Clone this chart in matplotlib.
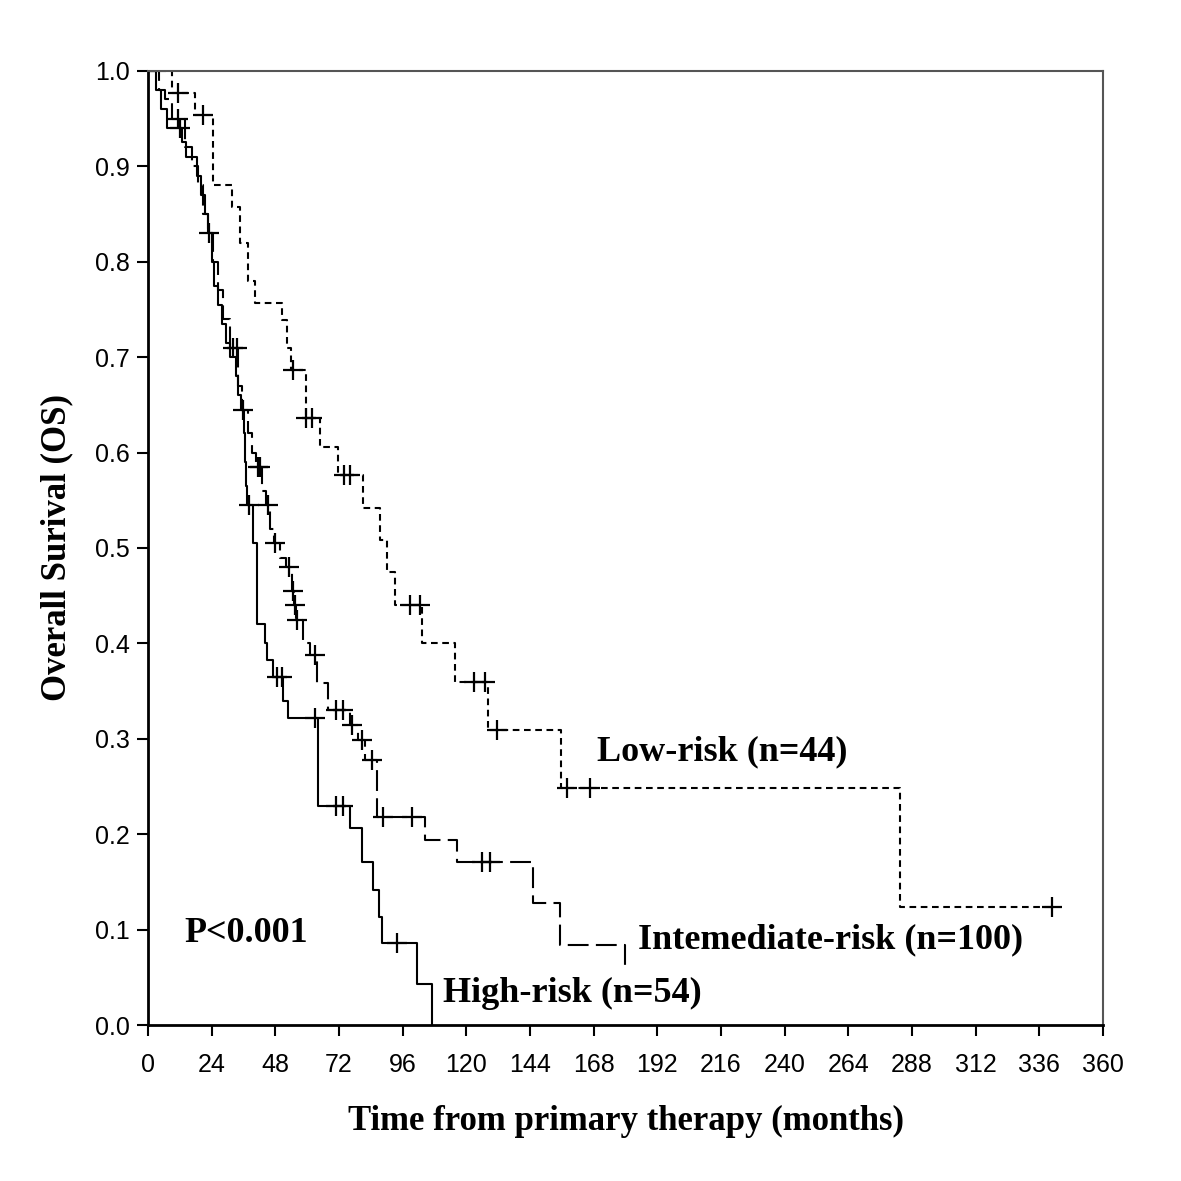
"""Kaplan-Meier style overall survival curves by risk group."""

import matplotlib

matplotlib.use("Agg")
import matplotlib.pyplot as plt
import numpy as np

# Low-risk (n=44): drop times (months) and survival after each drop
low_t = [0, 9, 17.7, 24.5, 31.7, 34.7, 37.7, 40.3, 50.5, 52.5, 54, 59.5, 65, 71.6,
         81, 87.5, 90, 93, 103.3, 115.7, 128, 155.7, 283.5, 340.7]
low_s = [1.0, 0.977, 0.954, 0.88, 0.857, 0.82, 0.78, 0.757, 0.739, 0.71, 0.687, 0.636,
         0.606, 0.577, 0.542, 0.508, 0.475, 0.44, 0.40, 0.36, 0.309, 0.248, 0.124, 0.124]
low_cens = [11.5, 20.7, 54.8, 59.5, 62, 74, 76, 98.8, 102.5, 123, 127, 131.5,
            158, 166.6, 340.7]

# Intermediate-risk (n=100)
int_t = [0, 4, 6.4, 9, 14, 16.6, 18.8, 20.7, 22.6, 24.5, 26.4, 28.3, 31, 34, 35.4,
         37.7, 39.2, 40.7, 43, 44.5, 46, 47.5, 49.8, 52, 54.3, 55.2, 55.7, 58.4, 61,
         63.7, 67.8, 76, 79.2, 81.8, 86.3, 104.4, 116.5, 145, 155.3, 179.8]
int_s = [1.0, 0.98, 0.97, 0.95, 0.92, 0.90, 0.88, 0.85, 0.83, 0.80, 0.77, 0.74, 0.71,
         0.67, 0.645, 0.62, 0.60, 0.585, 0.56, 0.545, 0.52, 0.505, 0.49, 0.48, 0.455,
         0.44, 0.425, 0.40, 0.388, 0.358, 0.33, 0.314, 0.299, 0.278, 0.218, 0.194,
         0.171, 0.128, 0.084, 0.06]
int_cens = [11.3, 23, 32, 33.5, 36, 41.3, 42.2, 45.2, 47.8, 53, 54.8, 55.5, 56.2,
            62.8, 71, 73.5, 77, 80.7, 84.5, 88.6, 99.5, 126, 129]

# High-risk (n=54)
high_t = [0, 3, 5, 7, 13, 14.5, 18.5, 20, 21.5, 22.5, 24, 25, 26.5, 28, 29.5, 31, 33,
          34, 35, 36.3, 36.6, 37, 37.3, 39.5, 41.2, 44, 45, 47, 51, 52.8, 64, 76,
          80.7, 84.8, 86.9, 88.1, 101.3, 107]
high_s = [1.0, 0.98, 0.96, 0.94, 0.925, 0.91, 0.89, 0.87, 0.85, 0.83, 0.80, 0.775,
          0.755, 0.735, 0.715, 0.70, 0.68, 0.66, 0.645, 0.62, 0.59, 0.565, 0.545,
          0.505, 0.42, 0.40, 0.383, 0.365, 0.34, 0.322, 0.23, 0.207, 0.171, 0.142,
          0.113, 0.086, 0.043, 0.0]
high_cens = [12, 38, 48.6, 50.5, 62.8, 71, 73.5, 93.9]

x_ticks = list(range(0, 361, 24))
y_ticks = [0.0, 0.1, 0.2, 0.3, 0.4, 0.5, 0.6, 0.7, 0.8, 0.9, 1.0]

serif_bold = dict(family="Liberation Serif", fontweight="bold")
tick_fonts = ["Liberation Sans Narrow", "Liberation Sans"]


def surv_at(times, surv, t):
    """Survival value of a step curve at time t."""
    idx = np.searchsorted(times, t, side="right") - 1
    return np.asarray(surv)[idx]


fig = plt.figure(figsize=(11.81, 11.81), dpi=100)
ax = fig.add_axes([0.1253, 0.132, 0.8087, 0.808])

groups = [
    (low_t, low_s, low_cens, (0, (3.2, 2.2))),
    (int_t, int_s, int_cens, (0, (10, 3.5))),
    (high_t, high_s, high_cens, "-"),
]
for times, surv, cens, ls in groups:
    ax.step(times, surv, where="post", color="black", linewidth=1.5, linestyle=ls)
    ax.plot(cens, surv_at(times, surv, cens), linestyle="none", marker="+",
            markersize=14, markeredgewidth=1.6, color="black")

ax.set_xlim(0, 360)
ax.set_ylim(0, 1.0)
ax.set_xticks(x_ticks)
ax.set_yticks(y_ticks)
ax.set_yticklabels([f"{v:.1f}" for v in y_ticks])
ax.tick_params(direction="out", length=8, width=1.5, labelsize=18)
ax.tick_params(axis="x", pad=12)
ax.tick_params(axis="y", pad=5)
for lab in ax.get_xticklabels() + ax.get_yticklabels():
    lab.set_family(tick_fonts)

for side in ["left", "bottom"]:
    ax.spines[side].set_linewidth(2)
for side in ["top", "right"]:
    ax.spines[side].set_linewidth(1.5)
    ax.spines[side].set_color("#555555")

ax.set_xlabel("Time from primary therapy (months)", fontsize=25, labelpad=20,
              **serif_bold)
ax.set_ylabel("Overall Surival (OS)", fontsize=25, labelpad=16, **serif_bold)

ax.text(169.2, 0.286, "Low-risk (n=44)", fontsize=26, va="center", **serif_bold)
ax.text(184.7, 0.089, "Intemediate-risk (n=100)", fontsize=26, va="center",
        **serif_bold)
ax.text(111.2, 0.033, "High-risk (n=54)", fontsize=26, va="center", **serif_bold)
ax.text(13.6, 0.096, "P<0.001", fontsize=26, va="center", **serif_bold)

fig.savefig("out.png", dpi=100)
plt.close(fig)
